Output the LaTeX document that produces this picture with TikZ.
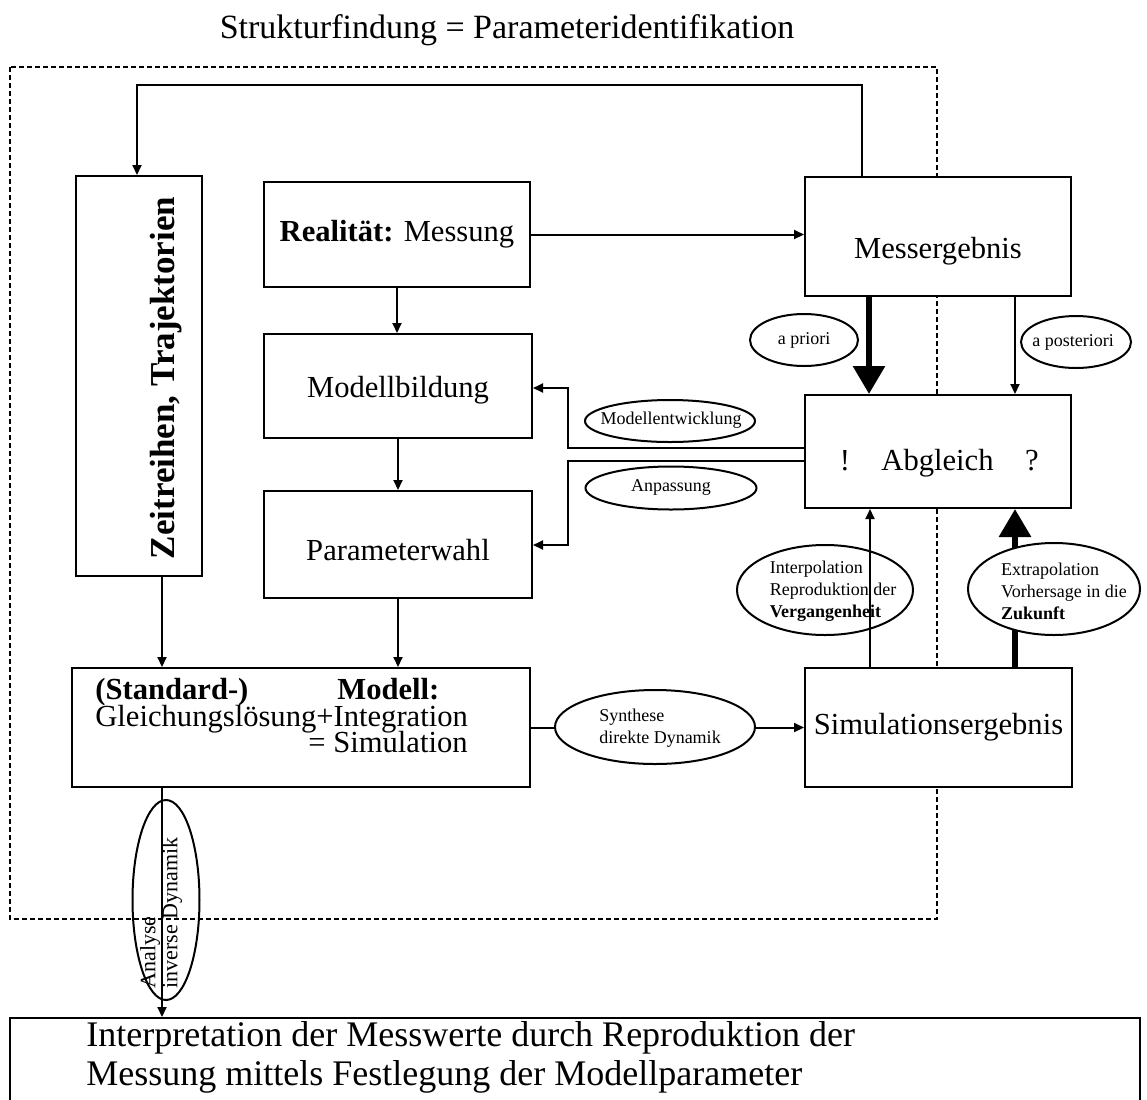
\documentclass[tikz,border=0pt]{standalone}
\usepackage{fontspec}
\setmainfont{Liberation Serif}
\usetikzlibrary{arrows.meta,shapes.geometric}
\begin{document}
\begin{tikzpicture}[x=0.5pt,y=-0.5pt,
  box/.style={draw,line width=1pt,fill=white,inner sep=0pt,font=\fontsize{15.3}{18}\selectfont},
  txt/.style={inner sep=0pt,font=\fontsize{15.3}{18}\selectfont},
  oval/.style={draw,ellipse,line width=1pt,inner sep=0pt},
  small/.style={inner sep=0pt,align=left,font=\fontsize{9}{11}\selectfont},
  conn/.style={line width=1pt,-{Triangle[length=5pt,width=4.5pt]}},
  bigconn/.style={line width=3pt,-{Triangle[length=14pt,width=15.5pt]}},
  dashbox/.style={line width=1pt,dash pattern=on 2.5pt off 1.5pt}
]
\useasboundingbox (0,0) rectangle (1147,1099);
\clip (0,0) rectangle (1147,1099);

% title
\node[inner sep=0pt,font=\fontsize{17}{20}\selectfont] (title) at (507,30) {Strukturfindung = Parameteridentifikation};

% dashed frame
\draw[dashbox] (10,67) rectangle (937,919);

% boxes
\node[box,minimum width=63pt,minimum height=200pt] (zeit) at (139,376) {};
\node[txt,rotate=90,font=\bfseries\fontsize{17.5}{20}\selectfont] (zeittxt) at (166,378) {Zeitreihen, Trajektorien};
\node[box,minimum width=133pt,minimum height=52.5pt] (real) at (397,234.5) {\textbf{Realität:} Messung};
\node[box,minimum width=133pt,minimum height=59.5pt] (mess) at (938,236.5) {};
\node[txt] (messtxt) at (938,251) {Messergebnis};
\node[box,minimum width=134pt,minimum height=52pt] (bild) at (398,386) {};
\node[txt] (bildtxt) at (398,390) {Modellbildung};
\node[box,minimum width=134pt,minimum height=53.5pt] (wahl) at (398,544.5) {};
\node[txt] (wahltxt) at (398,550) {Parameterwahl};
\node[box,minimum width=133pt,minimum height=56.5pt] (abg) at (938,451.5) {};
\node[txt,anchor=base] (excl) at (845,470) {!};
\node[txt,anchor=base] (abgtxt) at (937.5,470) {Abgleich};
\node[txt,anchor=base] (quest) at (1032,470) {?};
\node[box,minimum width=133.5pt,minimum height=59.5pt] (sim) at (938.5,727.5) {Simulationsergebnis};
\node[box,minimum width=229pt,minimum height=59.5pt] (modell) at (301,727.5) {};
\node[txt,anchor=base west] (m1a) at (95,699) {\textbf{(Standard-)}};
\node[txt,anchor=base west] (m1b) at (337,699) {\textbf{Modell:}};
\node[txt,anchor=base west] (m2) at (95,726) {Gleichungslösung+Integration};
\node[txt,anchor=base east] (m3) at (468,752) {= Simulation};
\node[draw,line width=1pt,fill=white,inner sep=0pt,minimum width=565pt,minimum height=46pt] (bottom) at (575,1064) {};
\node[inner sep=0pt,anchor=base west,font=\fontsize{18}{22}\selectfont] (b1) at (86,1046) {Interpretation der Messwerte durch Reproduktion der};
\node[inner sep=0pt,anchor=base west,font=\fontsize{18}{22}\selectfont] (b2) at (86,1085) {Messung mittels Festlegung der Modellparameter};

% connectors
\coordinate (fbk) at (137,85);
\draw[conn] ([xshift=29pt]mess.north west) |- (fbk) -- (fbk |- zeit.north);
\draw[conn] (real.east) -- (real.east -| mess.west);
\draw[conn] (real.south) -- (real.south |- bild.north);
\draw[conn] (bild.south) -- (bild.south |- wahl.north);
\coordinate (me) at (568,388);
\draw[conn] ([yshift=1.75pt]abg.west) -| (me) -- (me -| bild.east);
\coordinate (ap) at (568,545);
\draw[conn] ([yshift=-4.75pt]abg.west) -| (ap) -- (ap -| wahl.east);
\draw[conn] (wahl.south) -- (wahl.south |- modell.north);
\coordinate (zx) at ([xshift=11.5pt]zeit.south);
\draw[conn] (zx) -- (zx |- modell.north);
\coordinate (apx) at ([xshift=32.5pt]mess.south west);
\draw[bigconn] (apx) -- (apx |- abg.north);
\coordinate (aqx) at ([xshift=105.5pt]mess.south west);
\draw[conn] (aqx) -- (aqx |- abg.north);
\coordinate (ix) at ([xshift=33pt]sim.north west);
\coordinate (ex) at ([xshift=105.5pt]sim.north west);
\draw[bigconn] (ex) -- (ex |- abg.south);
\draw[conn] (modell.east) -- (modell.east -| sim.west);
\coordinate (ax) at (zx |- modell.south);

% ellipses
\node[oval,minimum width=54pt,minimum height=26pt] (apri) at (804,340) {};
\node[small] (apritxt) at (804,340) {a priori};
\node[oval,minimum width=55pt,minimum height=26pt] (apost) at (1076,342) {};
\node[small] (aposttxt) at (1073,342) {a posteriori};
\node[oval,minimum width=85pt,minimum height=21pt] (mentw) at (670,421) {};
\node[small] (mentwtxt) at (671,420) {Modellentwicklung};
\node[oval,minimum width=85.5pt,minimum height=21.5pt] (anp) at (671,488) {};
\node[small] (anptxt) at (671,487) {Anpassung};
\node[oval,minimum width=88pt,minimum height=45pt] (interp) at (825,590) {};
\node[small] (interptxt) at (833,591) {Interpolation\\Reproduktion der\\\textbf{Vergangenheit}};
\draw[conn] (ix) -- (ix |- abg.south);
\node[oval,fill=white,minimum width=86pt,minimum height=46pt] (extra) at (1054,589) {};
\node[small] (extratxt) at (1064,591) {Extrapolation\\Vorhersage in die\\\textbf{Zukunft}};
\node[oval,fill=white,minimum width=100pt,minimum height=37pt] (synth) at (655,727) {};
\node[small] (synthtxt) at (660,728) {Synthese\\direkte Dynamik};
\node[oval,minimum width=33.5pt,minimum height=100pt] (analyse) at (166,900) {};
\node[small,rotate=90,font=\fontsize{11}{10}\selectfont] (analysetxt) at (161,913) {Analyse\\inverse Dynamik};
\draw[conn] (ax) -- (ax |- bottom.north);
\end{tikzpicture}
\end{document}
